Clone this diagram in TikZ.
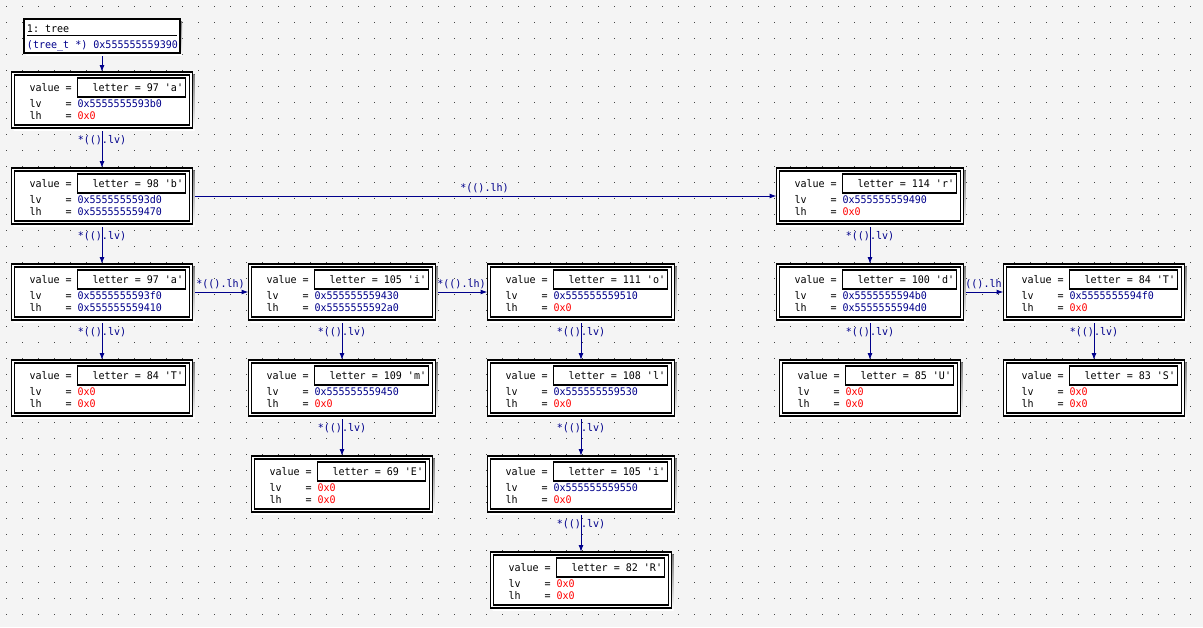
\documentclass[tikz,border=0pt]{standalone}
\usepackage{fontspec}
\setmonofont[FakeStretch=0.955]{DejaVu Sans Mono}
\usetikzlibrary{arrows.meta,calc}
\definecolor{canvas}{RGB}{244,244,244}
\definecolor{dotgray}{RGB}{70,70,70}
\definecolor{ptrblue}{RGB}{0,0,139}
\definecolor{nullred}{RGB}{255,0,0}
\definecolor{shade}{RGB}{175,175,175}
\pgfdeclarelayer{grid}
\pgfdeclarelayer{links}
\pgfsetlayers{grid,links,main}

% record display: name, centre x, top y, chars of value, value, lv, lv colour, lh, lh colour
\newcommand\recnode[9]{%
  \pgfmathsetmacro\recw{91+6*#4}%
  \pgfmathsetmacro\recl{#2-\recw/2}%
  \pgfmathsetmacro\recr{#2+\recw/2}%
  \pgfmathsetmacro\recb{#3+56}%
  \fill[shade] (\recl+2,#3+2) rectangle (\recr+2,\recb+2);
  \node[outerbox, minimum width=\recw pt, minimum height=56pt, anchor=north] (#1) at (#2,#3) {};
  \draw[frameline] (\recl+3,#3+3) rectangle (\recr-3,\recb-3);
  \pgfmathsetmacro\vbl{\recl+66}%
  \pgfmathsetmacro\vbr{\vbl+18+6*#4}%
  \draw[frameline] (\vbl,#3+6) rectangle (\vbr,#3+25);
  \node[txt] at (\recl+18,#3+19.5) {value =};
  \node[txt] at (\vbl+15,#3+19.5) {#5};
  \node[txt] at (\recl+18,#3+35.5) {lv};
  \node[txt] at (\recl+54,#3+35.5) {=};
  \node[txt, text=#7] at (\vbl,#3+35.5) {#6};
  \node[txt] at (\recl+18,#3+47.5) {lh};
  \node[txt] at (\recl+54,#3+47.5) {=};
  \node[txt, text=#9] at (\vbl,#3+47.5) {#8};
}

% pointer edges
\newcommand\vlink[2]{%
  \draw[link] (#1.south) -- (#2.north);
  \node[linklabel] at ($(#1.south)+(0,15.5)$) {*(().lv)};
}
\newcommand\hlink[2]{%
  \draw[link] (#1.east) -- (#2.west);
  \node[linklabel] at ($(#1.east)!0.5!(#2.west)+(0,-4.5)$) {*(().lh)};
}

\begin{document}
\begin{tikzpicture}[x=1pt,y=-1pt,
  font=\ttfamily\fontsize{10.5}{12}\selectfont,
  outerbox/.style={draw=black, fill=white, line width=1.1pt, inner sep=0pt, outer sep=0pt},
  frameline/.style={draw=black, line width=1.1pt},
  txt/.style={anchor=base west, inner sep=0pt, outer sep=0pt},
  link/.style={draw=ptrblue, line width=1pt, -{Latex[length=7pt,width=5pt]}},
  linklabel/.style={text=ptrblue, anchor=base, inner sep=0pt, outer sep=0pt}]

\useasboundingbox (0,0) rectangle (1203,627);

\begin{pgfonlayer}{grid}
  \fill[canvas] (0,0) rectangle (1203,627);
  \foreach \i in {0,...,74}{
    \foreach \j in {0,...,38}{
      \fill[dotgray] (6+16*\i,6+16*\j) rectangle ++(1,1);
    }
  }
\end{pgfonlayer}

% header display
\fill[shade] (26,21) rectangle (182,55);
\node[outerbox, minimum width=156pt, minimum height=34pt, anchor=north west] (hdr) at (24,19) {};
\node[txt] at (27,32.5) {1: tree};
\draw[black, line width=1.3pt] (27,35.5) -- (177,35.5);
\node[txt, text=ptrblue] at (27,48) {(tree\_t *) 0x555555559390};

% column 1
\recnode{A1}{102}{72}{15}{letter = 97 'a'}{0x5555555593b0}{ptrblue}{0x0}{nullred}
\recnode{B}{102}{168}{15}{letter = 98 'b'}{0x5555555593d0}{ptrblue}{0x555555559470}{ptrblue}
\recnode{A2}{102}{264}{15}{letter = 97 'a'}{0x5555555593f0}{ptrblue}{0x555555559410}{ptrblue}
\recnode{T1}{102}{360}{15}{letter = 84 'T'}{0x0}{nullred}{0x0}{nullred}
% column 2
\recnode{I1}{342}{264}{16}{letter = 105 'i'}{0x555555559430}{ptrblue}{0x5555555592a0}{ptrblue}
\recnode{M}{342}{360}{16}{letter = 109 'm'}{0x555555559450}{ptrblue}{0x0}{nullred}
\recnode{E}{342}{456}{15}{letter = 69 'E'}{0x0}{nullred}{0x0}{nullred}
% column 3
\recnode{O}{581}{264}{16}{letter = 111 'o'}{0x555555559510}{ptrblue}{0x0}{nullred}
\recnode{L}{581}{360}{16}{letter = 108 'l'}{0x555555559530}{ptrblue}{0x0}{nullred}
\recnode{I2}{581}{456}{16}{letter = 105 'i'}{0x555555559550}{ptrblue}{0x0}{nullred}
\recnode{R}{581}{552}{15}{letter = 82 'R'}{0x0}{nullred}{0x0}{nullred}
% column 4
\recnode{r}{870}{168}{16}{letter = 114 'r'}{0x555555559490}{ptrblue}{0x0}{nullred}
\recnode{d}{870}{264}{16}{letter = 100 'd'}{0x5555555594b0}{ptrblue}{0x5555555594d0}{ptrblue}
\recnode{U}{870}{360}{15}{letter = 85 'U'}{0x0}{nullred}{0x0}{nullred}
% column 5
\recnode{T2}{1094}{264}{15}{letter = 84 'T'}{0x5555555594f0}{ptrblue}{0x0}{nullred}
\recnode{S}{1094}{360}{15}{letter = 83 'S'}{0x0}{nullred}{0x0}{nullred}

\begin{pgfonlayer}{links}
  \draw[link] (hdr.south) -- (A1.north);
  \vlink{A1}{B}
  \vlink{B}{A2}
  \vlink{A2}{T1}
  \hlink{A2}{I1}
  \hlink{I1}{O}
  \vlink{I1}{M}
  \vlink{M}{E}
  \vlink{O}{L}
  \vlink{L}{I2}
  \vlink{I2}{R}
  \hlink{B}{r}
  \vlink{r}{d}
  \vlink{d}{U}
  \hlink{d}{T2}
  \vlink{T2}{S}
\end{pgfonlayer}
\end{tikzpicture}
\end{document}
